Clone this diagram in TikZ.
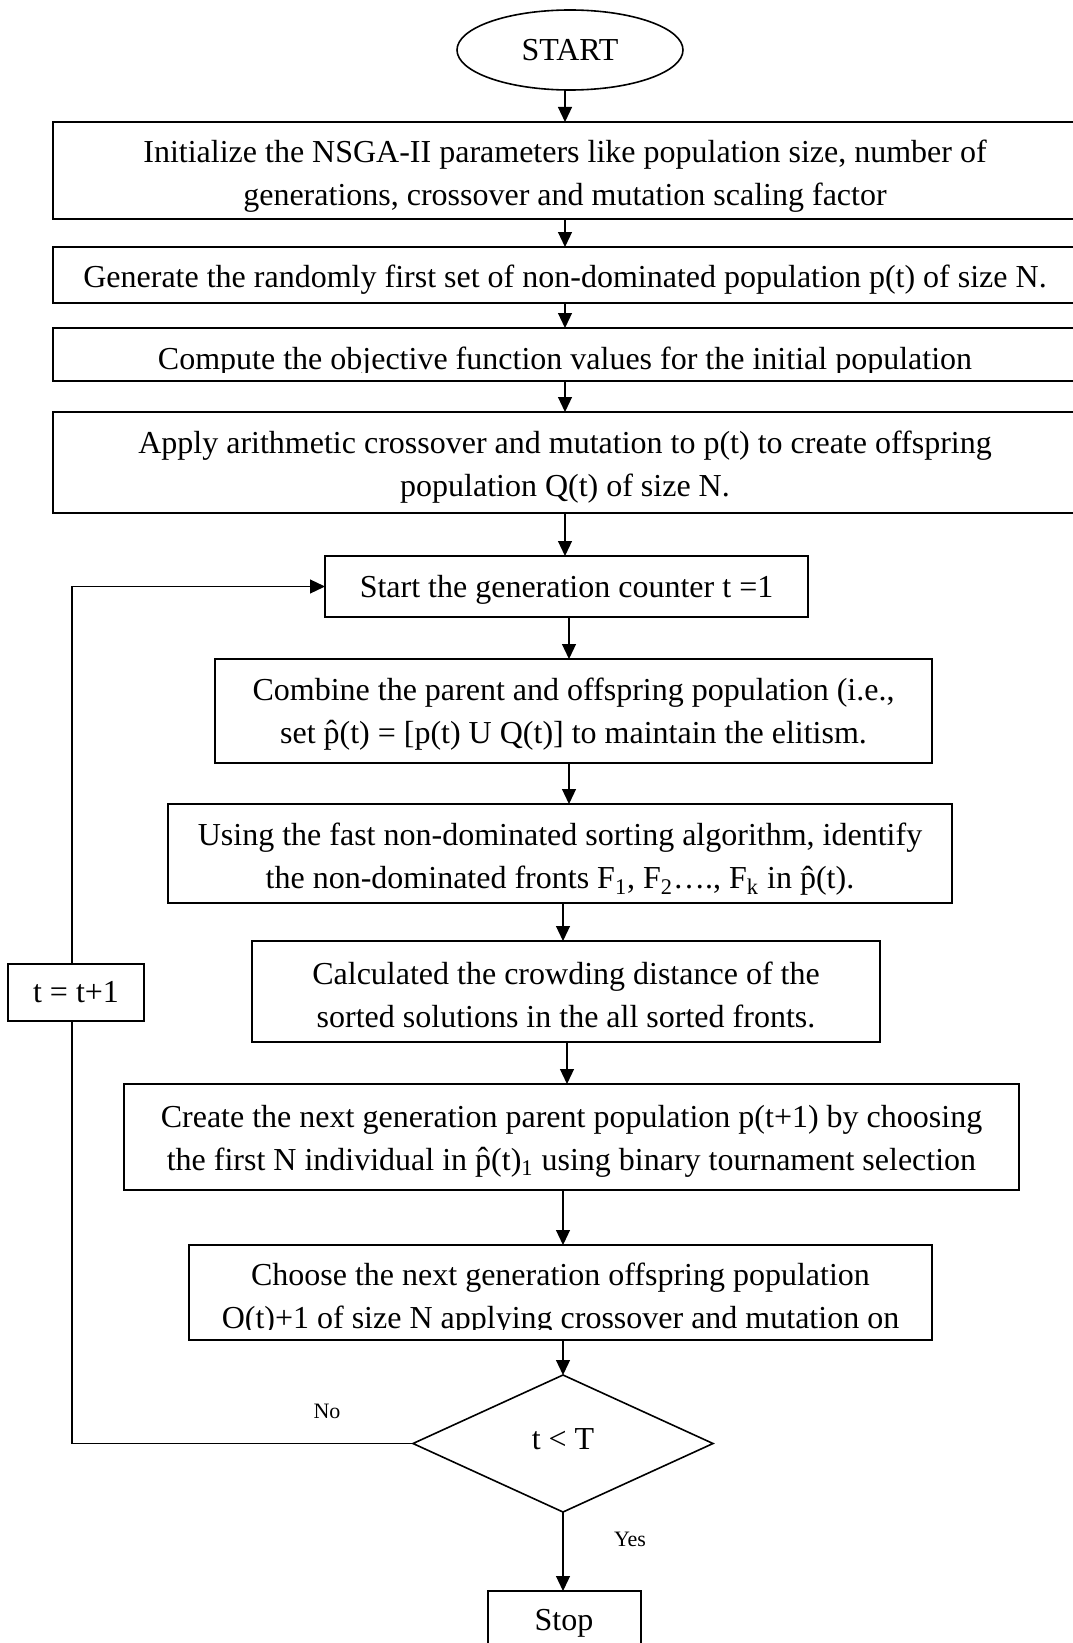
\documentclass[tikz,border=0pt]{standalone}
\usepackage{fontspec}
\setmainfont{Liberation Serif}
\usetikzlibrary{shapes.geometric,arrows.meta,calc}

\newcommand{\mainsize}{\fontsize{16}{21.5}\selectfont}
\newcommand{\smallsize}{\fontsize{11}{13}\selectfont}

\begin{document}
\begin{tikzpicture}[x=0.5pt,y=-0.5pt,
  every node/.style={inner sep=0pt, outer sep=0pt},
  frame/.style n args={2}{draw, line width=1pt, rectangle,
    minimum width=#1*0.5pt, minimum height=#2*0.5pt},
  txt/.style={font=\mainsize, align=center},
  btxt/.style={font=\mainsize, anchor=base},
  conn/.style={line width=0.6pt},
  arr/.style={conn, -{Triangle[length=7.5pt,width=7pt]}},
  lbl/.style={font=\smallsize}]

\useasboundingbox (0,0) rectangle (1072,1643);

% start terminal
\node[draw, ellipse, line width=0.8pt, minimum width=113pt, minimum height=40pt, font=\mainsize]
  (start) at (570,50) {START};

% setup boxes (they run past the right margin)
\node[frame={1024}{97}] (b1) at (565,170.5) {};
\node[txt] (b1t) at (565,176.5)
  {Initialize the NSGA-II parameters like population size, number of\\
   generations, crossover and mutation scaling factor};
\node[frame={1024}{56}] (b2) at (565,275) {};
\node[txt] (b2t) at (565,280)
  {Generate the randomly first set of non-dominated population p(t) of size N.};
\node[frame={1024}{53}] (b3) at (565,354.5) {};
\begin{scope}
  \clip (53,328) rectangle (1077,372);
  \node[btxt] (b3t) at (565,369) {Compute the objective function values for the initial population};
\end{scope}
\node[frame={1024}{101}] (b4) at (565,462.5) {};
\node[txt] (b4t) at (565,467.5)
  {Apply arithmetic crossover and mutation to p(t) to create offspring\\
   population Q(t) of size N.};

% generation loop
\node[frame={483}{61}] (b5) at (566.5,586.5) {};
\node[txt] (b5t) at (566.5,589.5) {Start the generation counter t =1};
\node[frame={717}{104}] (b6) at (573.5,711) {};
\node[txt] (b6t) at (573.5,714)
  {Combine the parent and offspring population (i.e.,\\
   set p̂(t) = [p(t) U Q(t)] to maintain the elitism.};
\node[frame={784.5}{99}] (b7) at (560,853.5) {};
\node[txt] (b7t) at (560,859.5)
  {Using the fast non-dominated sorting algorithm, identify\\
   the non-dominated fronts F\textsubscript{1}, F\textsubscript{2}\dots., F\textsubscript{k} in p̂(t).};
\node[frame={628}{101}] (b8) at (566,991.5) {};
\node[txt] (b8t) at (566,994.5)
  {Calculated the crowding distance of the\\
   sorted solutions in the all sorted fronts.};
\node[frame={895}{106}] (b9) at (571.5,1137) {};
\node[txt] (b9t) at (571.5,1141)
  {Create the next generation parent population p(t+1) by choosing\\
   the first N individual in p̂(t)\textsubscript{1} using binary tournament selection};
\node[frame={743}{95}] (b10) at (560.5,1292.5) {};
\begin{scope}
  \clip (189,1245) rectangle (932,1329);
  \node[btxt] (b10a) at (560.5,1285) {Choose the next generation offspring population};
  \node[btxt] (b10b) at (560.5,1328) {O(t)+1 of size N applying crossover and mutation on};
\end{scope}

\node[draw, diamond, line width=0.8pt, minimum width=150pt, minimum height=68.5pt]
  (dec) at (563,1443.5) {};
\node[txt] (dect) at (563,1439.5) {t < T};
\node[frame={153}{64}, font=\mainsize] (stop) at (564,1623) {Stop};
\node[frame={135.6}{57}, font=\mainsize] (tb) at (76,992.5) {t = t+1};

\node[lbl] (no) at (327,1411) {No};
\node[lbl] (yes) at (630,1539) {Yes};

% connectors
\draw[arr] (b1.north |- start.south) -- (b1.north);
\draw[arr] (b1.south) -- (b2.north);
\draw[arr] (b2.south) -- (b3.north);
\draw[arr] (b3.south) -- (b4.north);
\draw[arr] (b4.south) -- (b4.south |- b5.north);
\draw[arr] (b5.south -| 569,0) -- (b6.north -| 569,0);
\draw[arr] (b6.south -| 569,0) -- (b7.north -| 569,0);
\draw[arr] (b7.south -| 563,0) -- (b8.north -| 563,0);
\draw[arr] (b8.south -| 567,0) -- (b9.north -| 567,0);
\draw[arr] (b9.south -| 563,0) -- (b10.north -| 563,0);
\draw[arr] (b10.south -| 563,0) -- (dec.north);
\draw[arr] (dec.south) -- (stop.north -| dec.south);

\coordinate (loopx) at (72,0);
\draw[conn] (dec.west) -| (tb.south -| loopx);
\draw[arr] (tb.north -| loopx) |- (b5.west);
\end{tikzpicture}
\end{document}
